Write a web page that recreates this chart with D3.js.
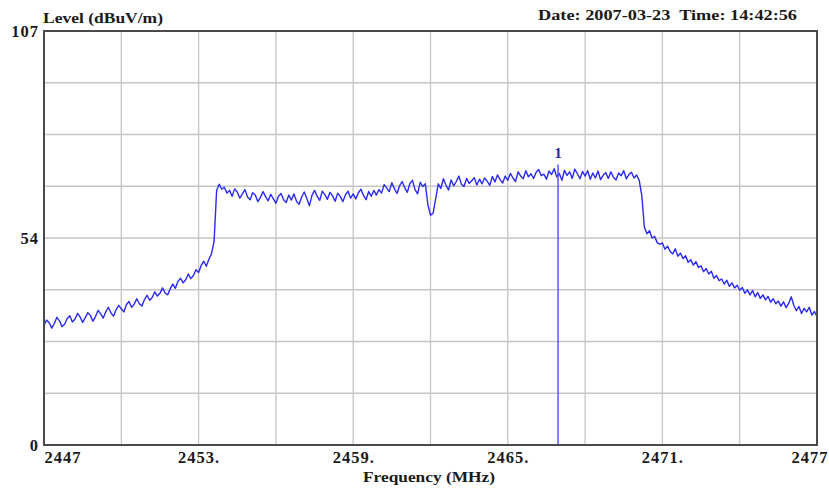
<!DOCTYPE html>
<html>
<head>
<meta charset="utf-8">
<script src="https://cdn.jsdelivr.net/npm/d3@7"></script>
<style>
  html, body { margin: 0; padding: 0; background: #fff; }
  svg { display: block; }
  text { font-family: "Liberation Serif", "Times New Roman", serif; font-weight: bold; fill: #1a1a1a; }
</style>
</head>
<body>
<svg id="chart" width="829" height="491"></svg>
<script>
// Sweep settings (MHz)
const freqStart = 2447;
const freqStep = 0.1;

// Measured level (dBuV/m), one reading per 0.1 MHz from 2447.0 to 2477.0
const levels = [
  // 2447
  31.0, 32.3, 31.6, 30.2, 31.4, 33.0, 32.1, 30.6, 31.2, 32.7,
  // 2448
  33.4, 31.8, 32.5, 34.0, 33.1, 31.7, 32.9, 34.2, 33.5, 32.0,
  // 2449
  33.2, 34.8, 33.9, 32.8, 34.5, 35.6, 34.1, 33.3, 35.0, 36.1,
  // 2450
  35.2, 34.4, 36.3, 37.1, 35.6, 36.4, 37.8, 36.5, 35.9, 37.6,
  // 2451
  38.7, 37.4, 38.1, 39.6, 38.5, 39.2, 40.6, 39.3, 38.8, 40.4,
  // 2452
  41.6, 40.5, 42.3, 43.1, 41.9, 42.7, 44.2, 43.0, 43.8, 45.3,
  // 2453
  44.6, 46.4, 47.5, 46.2, 48.0, 49.4, 52.6, 65.8, 67.4, 66.1,
  // 2454
  66.6, 65.1, 65.8, 64.3, 66.2, 65.4, 63.8, 64.9, 66.0, 64.1,
  // 2455
  63.4, 65.2, 64.6, 62.9, 64.0, 65.5, 64.2, 63.1, 64.8, 63.6,
  // 2456
  62.5, 64.3, 65.0, 63.4, 62.7, 64.6, 63.3, 64.9, 63.0, 62.2,
  // 2457
  64.1, 65.4, 63.7, 61.8, 64.5, 65.8, 64.3, 63.2, 65.6, 64.7,
  // 2458
  63.5, 65.3, 64.4, 63.0, 65.1, 64.2, 62.9, 64.7, 65.6, 63.8,
  // 2459
  64.9, 63.6, 65.2, 66.1, 64.5, 63.4, 65.5, 64.3, 65.8, 64.6,
  // 2460
  66.0, 65.1, 67.3, 66.4, 65.5, 67.8, 66.2, 65.0, 67.0, 68.1,
  // 2461
  66.5, 65.3, 67.6, 68.4, 66.0, 64.9, 67.9, 66.8, 67.5, 62.0,
  // 2462
  59.4, 59.9, 63.6, 67.5, 66.3, 68.8, 67.2, 65.9, 68.5, 67.0,
  // 2463
  68.1, 69.5, 67.4, 66.8, 68.9, 67.6, 68.3, 69.1, 67.2, 68.7,
  // 2464
  67.5, 69.0, 68.2, 67.1, 69.4, 68.0, 69.8, 68.6, 67.7, 69.5,
  // 2465
  68.4, 70.2, 69.0, 68.1, 70.6, 69.5, 68.8, 70.9, 69.3, 70.1,
  // 2466
  68.9, 70.5, 71.2, 69.6, 70.0, 68.7, 70.8, 69.9, 71.4, 69.3,
  // 2467
  70.2, 68.4, 71.0, 69.7, 70.6, 68.9, 71.3, 70.1, 68.8, 70.7,
  // 2468
  69.5, 70.9, 68.7, 70.3, 69.0, 70.8, 68.6, 69.7, 70.4, 68.9,
  // 2469
  70.6, 69.2, 68.5, 70.3, 69.6, 70.9, 68.8, 69.9, 70.5, 69.0,
  // 2470
  69.8, 68.4, 64.5, 56.3, 54.6, 55.4, 53.5, 53.9, 52.3, 51.9,
  // 2471
  52.2, 50.6, 51.4, 50.0, 49.4, 50.7, 48.8, 49.6, 48.2, 48.9,
  // 2472
  47.2, 47.9, 46.5, 47.4, 45.9, 46.3, 44.8, 45.6, 44.2, 44.9,
  // 2473
  43.1, 43.8, 42.5, 42.9, 41.6, 42.6, 41.0, 41.9, 40.6, 41.3,
  // 2474
  40.0, 40.7, 39.2, 40.1, 38.8, 39.9, 38.3, 39.4, 37.9, 38.8,
  // 2475
  37.5, 38.4, 36.9, 37.8, 36.5, 37.2, 35.9, 37.0, 35.5, 36.6,
  // 2476
  38.3, 36.1, 34.7, 35.8, 34.0, 35.3, 34.4, 35.6, 33.6, 34.5,
  // 2477
  33.2
];

// Axis ticks and labels
const xTickValues = [2447, 2453, 2459, 2465, 2471, 2477];
const xTickLabels = ["2447", "2453.", "2459.", "2465.", "2471.", "2477"];
const xGridValues = [2447, 2450, 2453, 2456, 2459, 2462, 2465, 2468, 2471, 2474, 2477];
const yTickValues = [0, 53.5, 107];
const yTickLabels = ["0", "54", "107"];
const yGridValues = [13.375, 26.75, 40.125, 53.5, 66.875, 80.25, 93.625];

// Marker 1
const markerFreq = 2466.95;
const markerLevel = 72.5;
const markerLabel = "1";

const titleText = "Level (dBuV/m)";
const stampText = "Date: 2007-03-23  Time: 14:42:56";
const xTitle = "Frequency (MHz)";

const svg = d3.select("#chart");
const plotLeft = 44, plotRight = 817, plotTop = 31, plotBottom = 445;

const x = d3.scaleLinear().domain([2447, 2477]).range([plotLeft, plotRight]);
const y = d3.scaleLinear().domain([0, 107]).range([plotBottom, plotTop]);

// grid
svg.append("g").selectAll("line").data(xGridValues).join("line")
  .attr("x1", d => x(d)).attr("x2", d => x(d))
  .attr("y1", plotTop).attr("y2", plotBottom)
  .attr("stroke", "#c6c6c6").attr("stroke-width", 1.3);
svg.append("g").selectAll("line").data(yGridValues).join("line")
  .attr("x1", plotLeft).attr("x2", plotRight)
  .attr("y1", d => y(d)).attr("y2", d => y(d))
  .attr("stroke", "#c6c6c6").attr("stroke-width", 1.3);

// trace
const points = levels.map((v, i) => [freqStart + i * freqStep, v]);
const line = d3.line().x(d => x(d[0])).y(d => y(d[1]));
svg.append("path").datum(points)
  .attr("d", line)
  .attr("fill", "none")
  .attr("stroke", "#2a2af0")
  .attr("stroke-width", 1.4)
  .attr("stroke-linejoin", "round");

// marker
svg.append("line")
  .attr("x1", x(markerFreq)).attr("x2", x(markerFreq))
  .attr("y1", y(0)).attr("y2", y(markerLevel))
  .attr("stroke", "#4a4aff").attr("stroke-width", 1.4);
svg.append("text")
  .attr("x", x(markerFreq)).attr("y", y(markerLevel) - 6)
  .attr("text-anchor", "middle")
  .attr("font-size", 14.5)
  .style("fill", "#24249c")
  .text(markerLabel);

// frame
svg.append("rect")
  .attr("x", plotLeft).attr("y", plotTop)
  .attr("width", plotRight - plotLeft).attr("height", plotBottom - plotTop)
  .attr("fill", "none").attr("stroke", "#4a4a4a").attr("stroke-width", 2);

// x axis labels
const xAxis = d3.axisBottom(x).tickValues(xTickValues)
  .tickFormat((d, i) => xTickLabels[i]).tickSize(0).tickPadding(0);
const gx = svg.append("g").attr("transform", `translate(0,${plotBottom})`).call(xAxis);
gx.select(".domain").remove();
gx.selectAll("text")
  .attr("font-size", 16.5)
  .attr("letter-spacing", 1)
  .attr("dy", 0)
  .attr("y", 18)
  .attr("text-anchor", (d, i) => i === 0 ? "start" : (i === xTickValues.length - 1 ? "end" : "middle"))
  .attr("dx", (d, i) => i === xTickValues.length - 1 ? 11 : 0)
  .attr("font-family", null);

// y axis labels
const yAxis = d3.axisLeft(y).tickValues(yTickValues)
  .tickFormat((d, i) => yTickLabels[i]).tickSize(0).tickPadding(5);
const gy = svg.append("g").attr("transform", `translate(${plotLeft},0)`).call(yAxis);
gy.select(".domain").remove();
gy.selectAll("text")
  .attr("font-size", 16.5)
  .attr("letter-spacing", 1)
  .attr("dy", "0.32em")
  .attr("font-family", null);

// titles
svg.append("text").attr("x", 43).attr("y", 23)
  .attr("font-size", 15)
  .attr("textLength", 120).attr("lengthAdjust", "spacingAndGlyphs")
  .text(titleText);
svg.append("text").attr("x", 538).attr("y", 20)
  .attr("font-size", 15)
  .attr("textLength", 259).attr("lengthAdjust", "spacingAndGlyphs")
  .style("white-space", "pre").text(stampText);
svg.append("text").attr("x", 363).attr("y", 482)
  .attr("font-size", 15)
  .attr("textLength", 132).attr("lengthAdjust", "spacingAndGlyphs")
  .text(xTitle);
</script>
</body>
</html>
